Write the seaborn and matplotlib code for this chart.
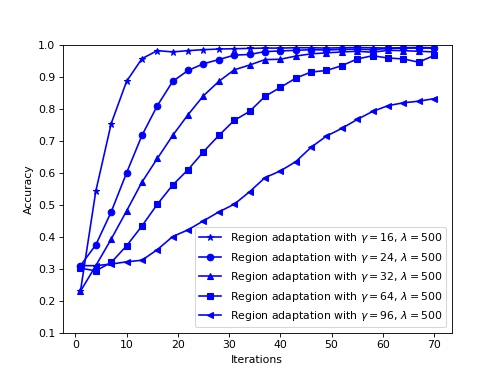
import matplotlib
matplotlib.use("Agg")
import matplotlib.pyplot as plt
import seaborn as sns
import pandas as pd

iterations = [1, 4, 7, 10, 13, 16, 19, 22, 25, 28, 31, 34, 37, 40, 43, 46, 49, 52, 55, 58, 61, 64, 67, 70]

acc_g16 = [0.23, 0.543, 0.754, 0.886, 0.957, 0.982, 0.978, 0.982, 0.985, 0.987, 0.988, 0.989,
           0.990, 0.990, 0.991, 0.991, 0.990, 0.991, 0.992, 0.991, 0.990, 0.991, 0.992, 0.991]
acc_g24 = [0.31, 0.375, 0.478, 0.600, 0.717, 0.810, 0.886, 0.920, 0.941, 0.954, 0.968, 0.970,
           0.979, 0.981, 0.983, 0.985, 0.984, 0.986, 0.987, 0.985, 0.989, 0.990, 0.990, 0.990]
acc_g32 = [0.23, 0.31, 0.393, 0.481, 0.571, 0.645, 0.717, 0.782, 0.841, 0.886, 0.922, 0.937,
           0.954, 0.955, 0.965, 0.972, 0.975, 0.978, 0.980, 0.977, 0.983, 0.982, 0.980, 0.978]
acc_g64 = [0.302, 0.294, 0.32, 0.372, 0.434, 0.502, 0.562, 0.610, 0.666, 0.717, 0.764, 0.792,
           0.839, 0.867, 0.896, 0.915, 0.920, 0.935, 0.956, 0.966, 0.959, 0.956, 0.946, 0.967]
acc_g96 = [0.31, 0.31, 0.315, 0.322, 0.327, 0.36, 0.401, 0.422, 0.45, 0.478, 0.502, 0.541,
           0.585, 0.606, 0.635, 0.680, 0.715, 0.739, 0.767, 0.792, 0.810, 0.819, 0.824, 0.832]

gammas = [16, 24, 32, 64, 96]
series = [acc_g16, acc_g24, acc_g32, acc_g64, acc_g96]
markers = ["*", "o", "^", "s", "<"]
labels = [r"Region adaptation with $\gamma = %d$, $\lambda = 500$" % g for g in gammas]

fig, ax = plt.subplots(figsize=(6.4, 4.768), dpi=78.44)
for vals, m, lab in zip(series, markers, labels):
    df = pd.DataFrame({"Iterations": iterations, "Accuracy": vals})
    sns.lineplot(data=df, x="Iterations", y="Accuracy", ax=ax, color="blue",
                 marker=m, markersize=6, markeredgecolor="blue", markeredgewidth=1,
                 linewidth=1.5, label=lab)

ax.set_ylim(0.1, 1.0)
ax.set_xticks([0, 10, 20, 30, 40, 50, 60, 70])
ax.set_yticks([0.1, 0.2, 0.3, 0.4, 0.5, 0.6, 0.7, 0.8, 0.9, 1.0])
ax.set_xlabel("Iterations")
ax.set_ylabel("Accuracy")
ax.legend(loc="lower right")
fig.savefig("out.png", dpi=78.44)
